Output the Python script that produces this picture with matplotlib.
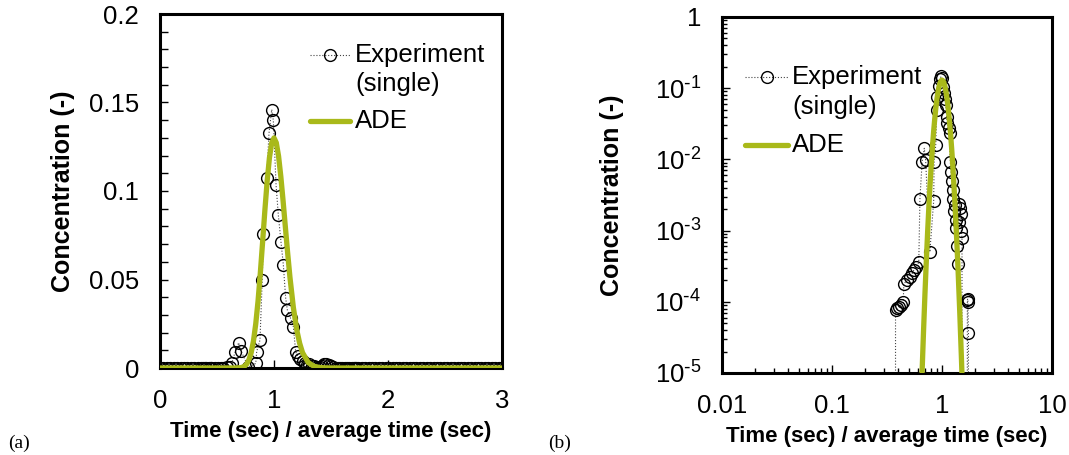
import matplotlib
matplotlib.use('Agg')
import matplotlib.pyplot as plt
from matplotlib.ticker import MultipleLocator, LogLocator, NullFormatter, FuncFormatter, FixedLocator
import numpy as np

plt.rcParams['font.family'] = ['Liberation Sans', 'DejaVu Sans']

# experiment (single): normalised time vs concentration
exp_t = [0.00, 0.03, 0.06, 0.09, 0.12, 0.15, 0.18, 0.21, 0.24, 0.27, 0.30, 0.33, 0.36,
         0.378, 0.392, 0.405, 0.426, 0.444, 0.450, 0.483, 0.510, 0.536, 0.555, 0.586, 0.615,
         0.630, 0.660, 0.690, 0.710, 0.775, 0.840, 0.848, 0.877, 0.897, 0.906, 0.936, 0.956,
         0.980, 0.994, 1.018, 1.038, 1.061, 1.082, 1.102, 1.117, 1.146, 1.170, 1.190, 1.210,
         1.230, 1.250, 1.270, 1.290, 1.310, 1.330, 1.350, 1.380, 1.400, 1.420, 1.440, 1.460,
         1.480, 1.500, 1.520, 1.540, 1.560, 1.580, 1.600, 1.620, 1.640, 1.660, 1.680, 1.700,
         1.710, 1.720, 1.740, 1.77, 1.80, 1.83, 1.86, 1.89, 1.92, 1.95, 1.98, 2.01, 2.04, 2.07,
         2.10, 2.13, 2.16, 2.19, 2.22, 2.25, 2.28, 2.31, 2.34, 2.37, 2.40, 2.43, 2.46, 2.49,
         2.52, 2.55, 2.58, 2.61, 2.64, 2.67, 2.70, 2.73, 2.76, 2.79, 2.82, 2.85, 2.88, 2.91,
         2.94, 2.97, 3.00]
exp_c = [0.0, 0.0, 0.0, 0.0, 0.0, 0.0, 0.0, 0.0, 0.0, 0.0, 0.0, 0.0, 0.0,
         7.6e-5, 8.1e-5, 8.5e-5, 9.1e-5, 9.8e-5, 1.8e-4, 2.0e-4, 2.2e-4, 2.5e-4, 2.8e-4, 3.1e-4, 3.6e-4,
         2.8e-3, 9.3e-3, 1.43e-2, 9.8e-3, 5.0e-4, 2.6e-3, 9.2e-3, 1.58e-2, 5.0e-2, 7.55e-2, 0.1075, 0.1326,
         0.146, 0.140, 0.1034, 0.0864, 0.0714, 0.0582, 0.0397, 0.0328, 0.0280, 0.0233, 9.2e-3, 6.6e-3,
         5.0e-3, 3.7e-3, 2.8e-3, 1.9e-3, 2.3e-3, 1.4e-3, 1.1e-3, 6.0e-4, 3.4e-4, 1.3e-3, 2.4e-3, 2.1e-3,
         1.7e-3, 1.0e-3, 7.8e-4, 0.0, 0.0, 0.0, 0.0, 0.0, 0.0, 0.0, 0.0, 1.05e-4,
         1.1e-4, 1.0e-4, 3.6e-5, 0.0, 0.0, 0.0, 0.0, 0.0, 0.0, 0.0, 0.0, 0.0, 0.0, 0.0,
         0.0, 0.0, 0.0, 0.0, 0.0, 0.0, 0.0, 0.0, 0.0, 0.0, 0.0, 0.0, 0.0, 0.0,
         0.0, 0.0, 0.0, 0.0, 0.0, 0.0, 0.0, 0.0, 0.0, 0.0, 0.0, 0.0, 0.0, 0.0,
         0.0, 0.0, 0.0]

# ADE model curve
ade_t = [0.0, 0.60, 0.62, 0.64, 0.66, 0.68, 0.70, 0.72, 0.74, 0.76, 0.78, 0.80, 0.82, 0.84,
         0.86, 0.88, 0.90, 0.92, 0.94, 0.96, 0.98, 1.00, 1.02, 1.04, 1.06, 1.08, 1.10, 1.12,
         1.14, 1.17, 1.20, 1.225, 1.25, 1.30, 1.35, 1.40, 1.45, 1.50, 1.55, 1.60, 3.0]
ade_c = [0.0, 9.1e-8, 5.3e-7, 2.6e-6, 1.1e-5, 4.0e-5, 1.3e-4, 3.7e-4, 9.5e-4, 2.2e-3, 4.6e-3,
         8.7e-3, 1.53e-2, 2.50e-2, 3.78e-2, 5.36e-2, 7.11e-2, 8.91e-2, 0.1056, 0.1188, 0.1272,
         0.130, 0.1273, 0.1197, 0.1081, 0.0942, 0.0794, 0.0648, 0.0512, 0.0341, 0.0214, 0.0140,
         8.7e-3, 3.1e-3, 9.8e-4, 2.8e-4, 7.2e-5, 1.7e-5, 3.9e-6, 8.1e-7, 0.0]

GREEN = '#A9B91A'
FS = 18.5
EXP_STYLE = dict(ls=':', lw=0.8, color='#444444', marker='o', ms=8.5, mfc='none',
                 mec='black', mew=1.0)

fig = plt.figure(figsize=(10.69, 4.55), dpi=100)
ax1 = fig.add_axes([160 / 1069, 1 - 368 / 455, 342 / 1069, 354 / 455])
ax2 = fig.add_axes([722 / 1069, 1 - 373 / 455, 330 / 1069, 356 / 455])


def draw(ax, t, c, at, ac, ylpad):
    ax.plot(t, c, zorder=2, **EXP_STYLE)
    ax.plot(at, ac, color=GREEN, lw=3.8, zorder=3)
    for s in ax.spines.values():
        s.set_linewidth(2.2)
    ax.tick_params(which='both', direction='in', labelsize=FS, pad=15, width=1)
    ax.tick_params(which='major', length=6)
    ax.tick_params(which='minor', length=3.5)
    ax.set_xlabel('Time (sec) / average time (sec)', fontsize=16, fontweight='bold', labelpad=6)
    ax.set_ylabel('Concentration (-)', fontsize=18, fontweight='bold', labelpad=ylpad)


def legend(ax, x0, x1, text_x, y_exp, y_single, y_ade):
    # hand-placed legend so the marker sits on the first line of the two-line label
    tr = ax.transAxes
    ax.plot([x0, x1], [y_exp, y_exp], transform=tr, clip_on=False,
            **dict(EXP_STYLE, marker='None'))
    ax.plot([(x0 + x1) / 2], [y_exp], transform=tr, clip_on=False, **EXP_STYLE)
    ax.plot([x0, x1], [y_ade, y_ade], transform=tr, clip_on=False, color=GREEN, lw=3.8,
            solid_capstyle='round')
    ax.text(text_x, y_exp, 'Experiment', transform=tr, fontsize=FS, va='center')
    ax.text(text_x, y_single, '(single)', transform=tr, fontsize=FS, va='center')
    ax.text(text_x, y_ade, 'ADE', transform=tr, fontsize=FS, va='center')


draw(ax1, exp_t, exp_c, ade_t, ade_c, 10)
ax1.set_xlim(0, 3)
ax1.set_ylim(0, 0.2)
ax1.xaxis.set_major_locator(MultipleLocator(1))
ax1.yaxis.set_major_locator(MultipleLocator(0.05))
ax1.yaxis.set_minor_locator(MultipleLocator(0.01))
ax1.tick_params(axis='y', which='minor', length=6)
ax1.yaxis.set_major_formatter(FuncFormatter(lambda v, p: '0' if v == 0 else ('%g' % v)))
legend(ax1, 0.4386, 0.5556, 0.570, 0.884, 0.803, 0.6977)

pos = np.array(ade_c) > 0
draw(ax2, exp_t, exp_c, np.array(ade_t)[pos], np.array(ade_c)[pos], 22)
ax2.set_xscale('log')
ax2.set_yscale('log')
ax2.set_xlim(0.01, 10)
ax2.set_ylim(1e-5, 1)
ax2.xaxis.set_major_locator(FixedLocator([0.01, 0.1, 1, 10]))
ax2.xaxis.set_major_formatter(FuncFormatter(lambda v, p: '%g' % v))
ax2.xaxis.set_minor_locator(LogLocator(base=10, subs=np.arange(2, 10)))
ax2.xaxis.set_minor_formatter(NullFormatter())
ax2.yaxis.set_major_locator(FixedLocator([1e-5, 1e-4, 1e-3, 1e-2, 1e-1, 1]))
ax2.yaxis.set_major_formatter(FuncFormatter(
    lambda v, p: '1' if v >= 1 else r'$\mathdefault{10^{\text{-}%d}}$' % round(-np.log10(v))))
ax2.yaxis.set_minor_locator(LogLocator(base=10, subs=np.arange(2, 10)))
ax2.yaxis.set_minor_formatter(NullFormatter())
legend(ax2, 0.0697, 0.200, 0.212, 0.8315, 0.747, 0.640)

fig.text(8 / 1069, 1 - 448 / 455, '(a)', family='Liberation Serif', fontsize=14)
fig.text(548 / 1069, 1 - 448 / 455, '(b)', family='Liberation Serif', fontsize=14)

fig.savefig('out.png', dpi=100)
